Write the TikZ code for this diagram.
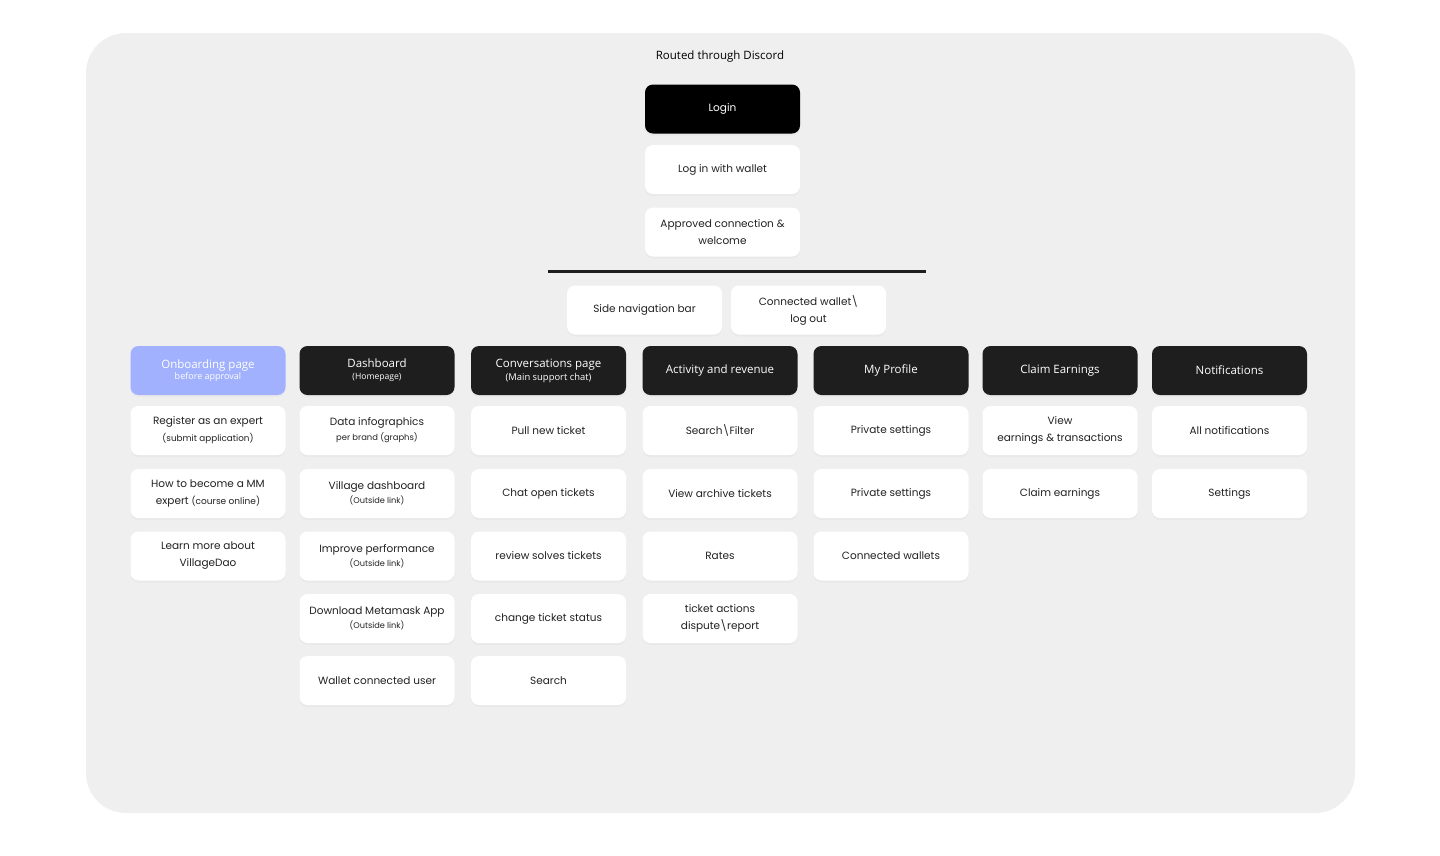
\documentclass[tikz,border=0pt]{standalone}
\usepackage{fontspec}
\usepackage{tikz}
\usetikzlibrary{positioning,shadows}
\setmainfont{Poppins}
\newfontfamily\uifont{Open Sans}
\definecolor{panelgray}{HTML}{EFEFEF}
\definecolor{inkdark}{HTML}{1E1E1E}
\definecolor{boxtext}{HTML}{222222}
\definecolor{onboardblue}{HTML}{A2B1FD}

\begin{document}
\begin{tikzpicture}[x=1pt, y=-1pt,
      card/.style={rectangle, rounded corners=8pt, fill=white,
        minimum width=155pt, minimum height=49pt, inner sep=0pt,
        align=center, text=boxtext,
        font=\fontsize{10.5}{17}\selectfont,
        drop shadow={shadow xshift=0pt, shadow yshift=-2pt, opacity=0.05}},
      head/.style={card, fill=inkdark, text=white,
        font=\uifont\fontsize{11.5}{14}\selectfont},
      rulebar/.style={line width=3pt, color=inkdark}
    ]
      \useasboundingbox (0,0) rectangle (1440,855);
      \fill[panelgray, rounded corners=40pt] (86,33) rectangle (1355,813);

      % login flow
      \node[font=\uifont\fontsize{11.5}{14}\selectfont] (routed) at (720,57) {Routed through Discord};
      \node[card, fill=black, text=white] (login) at (722.5,109) {Login};
      \node[card] (wallet)   at (722.5,169.5) {Log in with wallet};
      \node[card] (approved) at (722.5,232)   {Approved connection \&\\welcome};
      \coordinate (ruleL) at (548,271);
      \coordinate (ruleR) at (926,271);
      \draw[rulebar] (ruleL) -- (ruleR);
      \node[card] (sidenav)   at (644.5,310) {Side navigation bar};
      \node[card] (connected) at (808.5,310) {Connected wallet\textbackslash\\log out};

      % onboarding
      \node[head, fill=onboardblue] (onboard) at (208,370.5)
        {Onboarding page\\[-3pt]{\fontsize{9}{10}\selectfont before approval}};
      \node[card] (register) at (208,430.5) {Register as an expert\\{\fontsize{8.8}{12}\selectfont(submit application)}};
      \node[card] (become)   at (208,493.5) {How to become a MM\\expert {\fontsize{9}{12}\selectfont(course online)}};
      \node[card] (learn)    at (208,556)   {Learn more about\\VillageDao};

      % dashboard
      \node[head] (dash) at (377,370.5) {Dashboard\\[-2pt]{\fontsize{8.6}{10}\selectfont(Homepage)}};
      \node[card] (infogr)   at (377,430.5) {Data infographics\\[-2pt]{\fontsize{8.4}{10}\selectfont per brand (graphs)}};
      \node[card] (village)  at (377,493.5) {Village dashboard\\[-3pt]{\fontsize{8.2}{9}\selectfont(Outside link)}};
      \node[card] (improve)  at (377,556)   {Improve performance\\[-3pt]{\fontsize{8.2}{9}\selectfont(Outside link)}};
      \node[card] (metamask) at (377,618.5) {Download Metamask App\\[-3pt]{\fontsize{8.2}{9}\selectfont(Outside link)}};
      \node[card] (wuser)    at (377,680.5) {Wallet connected user};

      % conversations
      \node[head] (conv) at (548.5,370.5) {Conversations page\\[-1pt]{\fontsize{9.4}{10}\selectfont(Main support chat)}};
      \node[card] (pull)    at (548.5,430.5) {Pull new ticket};
      \node[card] (chat)    at (548.5,493.5) {Chat open tickets};
      \node[card] (review)  at (548.5,556)   {review solves tickets};
      \node[card] (status)  at (548.5,618.5) {change ticket status};
      \node[card] (csearch) at (548.5,680.5) {Search};

      % activity
      \node[head] (activity) at (720,370.5) {Activity and revenue};
      \node[card] (filter)  at (720,430.5) {Search\textbackslash Filter};
      \node[card] (archive) at (720,493.5) {View archive tickets};
      \node[card] (rates)   at (720,556)   {Rates};
      \node[card] (actions) at (720,618.5) {ticket actions\\dispute\textbackslash report};

      % profile
      \node[head] (profile) at (891,370.5) {My Profile};
      \node[card] (privA)    at (891,430.5) {Private settings};
      \node[card] (privB)    at (891,493.5) {Private settings};
      \node[card] (cwallets) at (891,556)   {Connected wallets};

      % earnings
      \node[head] (earn) at (1060,370.5) {Claim Earnings};
      \node[card] (viewearn)  at (1060,430.5) {View\\earnings \& transactions};
      \node[card] (claimearn) at (1060,493.5) {Claim earnings};

      % notifications
      \node[head] (notif) at (1229.5,370.5) {Notifications};
      \node[card] (allnotif) at (1229.5,430.5) {All notifications};
      \node[card] (settings) at (1229.5,493.5) {Settings};
    \end{tikzpicture}
\end{document}
